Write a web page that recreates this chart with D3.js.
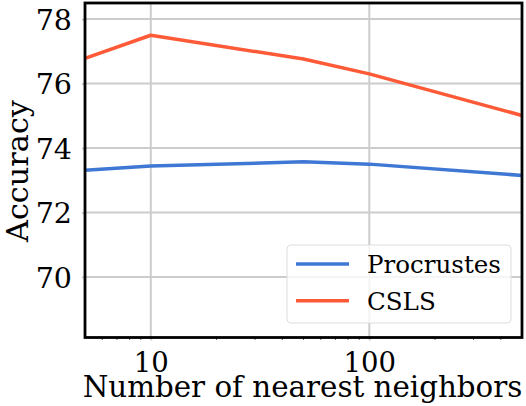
<!DOCTYPE html>
<html><head><meta charset="utf-8">
<script src="https://cdn.jsdelivr.net/npm/d3@7"></script>
<style>body{margin:0;background:#fff}svg{display:block}text{font-family:"DejaVu Serif",serif;fill:#000}</style>
</head><body><svg id="c" width="526" height="406"></svg>
<script>
const neighbors = [5, 10, 50, 100, 500];
const procrustes = [73.31, 73.44, 73.57, 73.50, 73.15];
const csls = [76.78, 77.50, 76.76, 76.30, 75.01];
const seriesNames = ["Procrustes", "CSLS"];
const seriesColors = ["#3f78d4", "#fe5a38"];
const yTicks = [70, 72, 74, 76, 78];
const xTicks = [10, 100];
const xMinor = [6,7,8,9,20,30,40,50,60,70,80,90,200,300,400];

const svg = d3.select("#c");
const L = 85, R = 522, T = 3, B = 337.5;
const x = d3.scaleLog().domain([5, 500]).range([L, R]);
const y = d3.scaleLinear().domain([68.12, 78.5]).range([B, T]);

function fitText(sel, base, target) {
  sel.attr("font-size", base);
  const w = sel.node().getComputedTextLength();
  if (w > 0) sel.attr("font-size", base * target / w);
}

// grid
svg.append("g").selectAll("line").data(yTicks).join("line")
  .attr("x1", L).attr("x2", R).attr("y1", d => y(d)).attr("y2", d => y(d))
  .attr("stroke", "#cccccc").attr("stroke-width", 2);
svg.append("g").selectAll("line").data(xTicks).join("line")
  .attr("y1", T).attr("y2", B).attr("x1", d => x(d)).attr("x2", d => x(d))
  .attr("stroke", "#cccccc").attr("stroke-width", 2);

// lines
const line = d3.line().x((d, i) => x(neighbors[i])).y(d => y(d));
[procrustes, csls].forEach((s, k) => {
  svg.append("path").datum(s).attr("d", line).attr("fill", "none")
    .attr("stroke", seriesColors[k]).attr("stroke-width", 3.5).attr("stroke-linejoin", "round");
});

// axes
const yAxis = d3.axisLeft(y).tickValues(yTicks).tickSize(3).tickPadding(10).tickFormat(d3.format("d"));
const gy = svg.append("g").attr("transform", `translate(${L},0)`).call(yAxis);
gy.select(".domain").remove();
gy.selectAll(".tick line").attr("stroke", "#cccccc").attr("stroke-width", 2);
gy.selectAll("text").attr("font-size", 28.5).attr("dy", "0.36em").attr("x", -13);

const xAxis = d3.axisBottom(x).tickValues(xTicks).tickSize(3).tickPadding(6).tickFormat(d3.format("d"));
const gx = svg.append("g").attr("transform", `translate(0,${B})`).call(xAxis);
gx.select(".domain").remove();
gx.selectAll(".tick line").attr("stroke", "#cccccc").attr("stroke-width", 2);
gx.selectAll("text").attr("font-size", 27.5).attr("dy", "0").attr("y", 34.5);
svg.append("g").selectAll("line").data(xMinor).join("line")
  .attr("x1", d => x(d)).attr("x2", d => x(d)).attr("y1", B).attr("y2", B + 2.5)
  .attr("stroke", "#333").attr("stroke-width", 0.8);

// frame
svg.append("rect").attr("x", L).attr("y", T).attr("width", R - L).attr("height", B - T)
  .attr("fill", "none").attr("stroke", "#000").attr("stroke-width", 2.8);

// labels
const xl = svg.append("text").attr("x", 302.5).attr("y", 396.5).attr("text-anchor", "middle")
  .text("Number of nearest neighbors");
fitText(xl, 28, 440);
const yl = svg.append("text").attr("transform", `translate(28,171) rotate(-90)`).attr("text-anchor", "middle")
  .text("Accuracy");
fitText(yl, 28, 142);

// legend
const lg = svg.append("g");
lg.append("rect").attr("x", 287).attr("y", 245).attr("width", 224).attr("height", 78).attr("rx", 4)
  .attr("fill", "#fff").attr("fill-opacity", 0.8).attr("stroke", "#dddddd").attr("stroke-width", 1);
let fs = 24.7;
seriesNames.forEach((n, i) => {
  const yy = 264 + i * 36.7;
  lg.append("line").attr("x1", 296).attr("x2", 349).attr("y1", yy).attr("y2", yy)
    .attr("stroke", seriesColors[i]).attr("stroke-width", 3.5);
  const t = lg.append("text").attr("x", 367).attr("y", yy + 9).text(n);
  if (i === 0) { fitText(t, 24, 134); fs = +t.attr("font-size"); }
  else t.attr("font-size", fs);
});
</script></body></html>
